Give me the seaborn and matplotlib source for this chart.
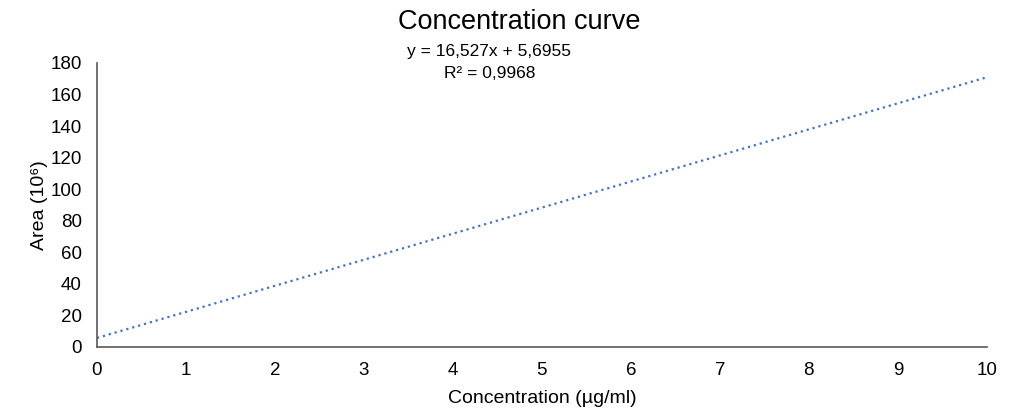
import matplotlib
matplotlib.use("Agg")
import pandas as pd
import seaborn as sns
import matplotlib.pyplot as plt

# trendline endpoints
trend_x = [0, 10]
trend_y = [5.6955, 170.9655]
equation = "y = 16,527x + 5,6955"
r_squared = "R² = 0,9968"
x_ticks = list(range(0, 11))
y_ticks = list(range(0, 181, 20))

sns.set_style("white")
plt.rcParams['font.family'] = ['Liberation Sans', 'DejaVu Sans']
plt.rcParams['text.color'] = '#000000'
plt.rcParams['axes.labelcolor'] = '#000000'

fig = plt.figure(figsize=(10.24, 4.2), dpi=100)
ax = fig.add_axes([0.0947, 0.174, 0.869, 0.676])

frame = pd.DataFrame({"x": trend_x, "y": trend_y})
sns.lineplot(data=frame, x="x", y="y", ax=ax, color="#4472C4",
             linestyle=(0, (1, 1.75)), linewidth=1.6)

ax.set_xlim(0, 10)
ax.set_ylim(0, 180)
ax.set_xticks(x_ticks)
ax.set_yticks(y_ticks)
ax.tick_params(axis="both", length=0, labelsize=13.5, colors="#000000")
ax.tick_params(axis="x", pad=11)
ax.tick_params(axis="y", pad=11)
for s in ["top", "right"]:
    ax.spines[s].set_visible(False)
for s in ["left", "bottom"]:
    ax.spines[s].set_color("#595959")
    ax.spines[s].set_linewidth(1.2)

ax.set_xlabel("Concentration (µg/ml)", fontsize=14, labelpad=8)
ax.set_ylabel("Area (10⁶)", fontsize=14, labelpad=2)
fig.text(0.507, 0.947, "Concentration curve", ha="center", va="center", fontsize=19.5)
fig.text(0.478, 0.878, equation, ha="center", va="center", fontsize=12.5)
fig.text(0.478, 0.826, r_squared, ha="center", va="center", fontsize=12.5)

fig.savefig("out.png", dpi=100)
